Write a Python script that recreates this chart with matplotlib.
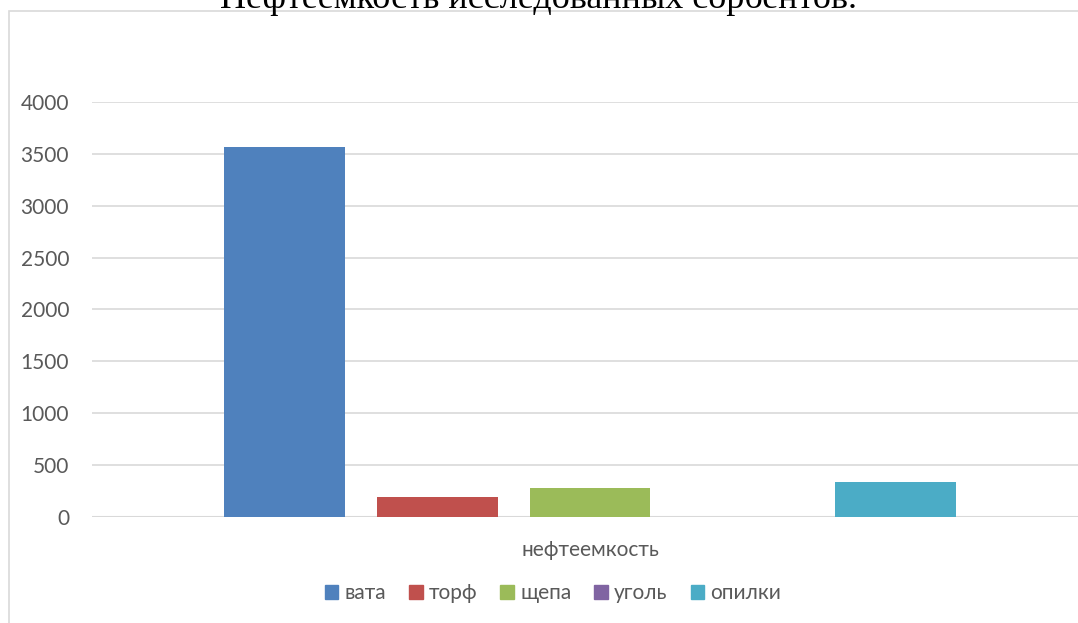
import matplotlib

matplotlib.use("Agg")
import matplotlib.pyplot as plt
from matplotlib.patches import Rectangle

# data
materials = ["вата", "торф", "щепа", "уголь", "опилки"]
values = [3570, 195, 275, 0, 340]
colors = ["#4f81bd", "#c0504d", "#9bbb59", "#8064a2", "#4bacc6"]
category = "нефтеемкость"
title = "Нефтеемкость исследованных сорбентов."
yticks = [0, 500, 1000, 1500, 2000, 2500, 3000, 3500, 4000]

W, H = 1078, 623
fig = plt.figure(figsize=(W / 100, H / 100), dpi=100)
plt.rcParams["font.family"] = ["Lato", "DejaVu Sans"]

# chart frame (light gray border, runs off right/bottom of the image)
fig.patches.append(Rectangle((9 / W, -0.1), 1.2, 1 - 11.5 / H + 0.1, transform=fig.transFigure,
                             fill=False, edgecolor="#d9d9d9", linewidth=1.2))

# plot area: x 92..1088 px, y 102..517 px
ax = fig.add_axes([92 / W, (H - 517) / H, (1088 - 92) / W, (517 - 102) / H])
ax.set_facecolor("none")
x = list(range(len(materials)))
ax.bar(x, values, width=121 / 153, color=colors, zorder=3)
ax.set_xlim(-1.258, len(materials) - 1 + 1.258)
ax.set_ylim(0, 4000)
ax.set_yticks(yticks)
ax.set_yticklabels([str(v) for v in yticks], fontsize=15, color="#595959")
ax.set_xticks([])
ax.tick_params(axis="y", length=0, pad=16.5)
for s in ax.spines.values():
    s.set_visible(False)
ax.grid(axis="y", color="#d9d9d9", linewidth=1.2, zorder=0)
ax.axhline(0, color="#d9d9d9", linewidth=1.5, zorder=1)

fig.text(590 / W, 1 - 550 / H, category, ha="center", va="center", fontsize=15, color="#595959")

fig.text(539 / W, 1 - 8 / H, title, ha="center", va="baseline", fontsize=26,
         family="Liberation Serif", color="black")

handles = [Rectangle((0, 0), 1, 1, color=c) for c in colors]
fig.legend(handles, materials, loc="center", bbox_to_anchor=(553 / W, 1 - 593 / H), ncol=5,
           frameon=False, fontsize=15, labelcolor="#595959", handlelength=0.65, handleheight=0.65,
           handletextpad=0.3, columnspacing=1.1)

fig.savefig("out.png", dpi=100)
